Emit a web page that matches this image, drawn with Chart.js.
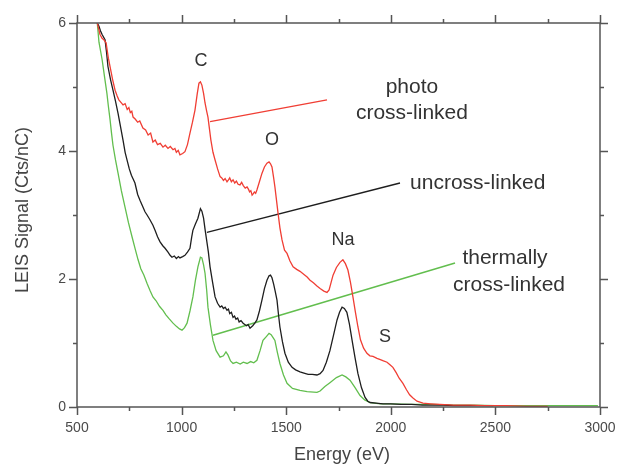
<!DOCTYPE html>
<html>
<head>
<meta charset="utf-8">
<script src="https://cdn.jsdelivr.net/npm/chart.js@4.4.1/dist/chart.umd.min.js"></script>
<style>
  html, body { margin:0; padding:0; background:#fff; }
  #wrap { width:618px; height:465px; }
</style>
</head>
<body>
<div id="wrap"><canvas id="grafico" width="618" height="465"></canvas></div>
<script>
// ======================= datos =======================
const photoE = [597,610,620,628,639,650,658,670,682,692,700,710,720,730,740,748,755,762,768,778,790,800,815,828,840,852,863,874,885,898,911,922,935,946,959,968,975,984,992,1005,1016,1028,1040,1052,1064,1075,1083,1090,1097,1105,1112,1120,1126,1133,1140,1150,1160,1172,1184,1192,1200,1208,1217,1224,1230,1238,1246,1254,1262,1270,1279,1287,1295,1304,1313,1320,1325,1331,1337,1342,1348,1354,1360,1372,1384,1396,1408,1418,1425,1432,1440,1446,1454,1461,1470,1480,1492,1504,1518,1533,1550,1566,1585,1600,1614,1630,1647,1662,1680,1695,1705,1715,1724,1740,1757,1771,1783,1795,1807,1819,1831,1843,1855,1870,1886,1900,1915,1934,1950,1965,1982,1996,2010,2025,2040,2058,2075,2090,2106,2125,2154,2190,2235,2300,2380,2450,2550,2650,2750];
const photoY = [6.00,5.82,5.76,5.74,5.69,5.45,5.32,5.12,4.95,4.86,4.80,4.76,4.72,4.74,4.65,4.68,4.60,4.62,4.53,4.50,4.45,4.47,4.36,4.33,4.25,4.28,4.14,4.17,4.10,4.12,4.06,4.09,4.04,4.07,4.02,4.04,3.98,4.01,3.94,3.96,3.99,4.10,4.28,4.45,4.64,4.90,5.06,5.08,5.03,4.90,4.75,4.62,4.53,4.35,4.17,3.98,3.86,3.72,3.60,3.58,3.54,3.57,3.52,3.55,3.58,3.52,3.55,3.50,3.53,3.48,3.47,3.51,3.46,3.42,3.44,3.40,3.36,3.38,3.31,3.33,3.36,3.34,3.39,3.52,3.65,3.75,3.81,3.83,3.80,3.75,3.58,3.44,3.22,3.03,2.80,2.61,2.45,2.40,2.28,2.19,2.15,2.12,2.07,2.03,1.98,1.94,1.89,1.85,1.81,1.79,1.83,1.95,2.06,2.18,2.26,2.30,2.24,2.14,1.95,1.72,1.48,1.25,1.05,0.92,0.84,0.80,0.79,0.76,0.74,0.72,0.70,0.66,0.62,0.54,0.45,0.37,0.27,0.19,0.14,0.09,0.06,0.05,0.04,0.03,0.03,0.02,0.02,0.01,0.01];

const uncrossE = [597,605,612,620,634,641,648,660,672,684,696,708,720,730,739,750,760,770,777,790,801,812,825,835,848,863,873,885,897,910,921,935,945,954,965,975,985,992,1005,1016,1028,1040,1048,1054,1066,1078,1090,1097,1105,1112,1120,1128,1136,1148,1160,1172,1184,1192,1200,1208,1217,1224,1230,1238,1246,1253,1260,1268,1275,1284,1294,1302,1310,1318,1327,1340,1350,1360,1372,1384,1396,1408,1418,1425,1432,1440,1448,1456,1463,1470,1482,1494,1510,1528,1545,1566,1585,1605,1625,1647,1662,1676,1692,1709,1726,1743,1755,1767,1778,1790,1802,1815,1829,1843,1860,1877,1890,1901,1930,1963,2000,2050,2100,2150,2200,2250,2300,2400,2490];
const uncrossY = [6.00,5.95,5.88,5.82,5.74,5.55,5.32,5.12,4.95,4.78,4.59,4.38,4.17,3.98,3.86,3.72,3.62,3.55,3.50,3.32,3.23,3.15,3.05,3.00,2.93,2.84,2.76,2.66,2.58,2.52,2.48,2.42,2.37,2.34,2.36,2.32,2.35,2.33,2.35,2.37,2.42,2.48,2.65,2.76,2.86,2.95,3.10,3.06,2.95,2.78,2.60,2.42,2.19,1.95,1.72,1.62,1.56,1.58,1.54,1.56,1.51,1.53,1.46,1.48,1.40,1.42,1.37,1.39,1.33,1.35,1.31,1.29,1.27,1.29,1.23,1.27,1.31,1.36,1.50,1.67,1.85,1.98,2.05,2.06,2.02,1.92,1.80,1.67,1.45,1.25,1.02,0.84,0.70,0.62,0.58,0.55,0.53,0.51,0.51,0.50,0.52,0.57,0.70,0.88,1.12,1.36,1.48,1.56,1.54,1.48,1.30,1.04,0.77,0.52,0.30,0.15,0.09,0.07,0.06,0.05,0.05,0.04,0.04,0.03,0.03,0.03,0.02,0.02,0.02];

const thermE = [597,605,620,632,643,650,658,665,672,684,696,712,729,746,763,778,792,805,820,835,849,863,878,895,911,925,940,959,975,990,1002,1014,1026,1040,1054,1066,1078,1090,1097,1105,1112,1120,1126,1138,1150,1165,1184,1200,1212,1222,1234,1246,1262,1280,1295,1313,1330,1345,1360,1375,1389,1405,1418,1428,1438,1446,1458,1470,1487,1504,1530,1566,1600,1647,1662,1685,1709,1740,1767,1785,1805,1830,1853,1875,1901,1950,2000,2100,2200,2300,2400,2500,2600,2700,2800,2900,2990];
const thermY = [6.00,5.70,5.43,5.15,4.90,4.70,4.49,4.28,4.09,3.86,3.66,3.38,3.13,2.88,2.66,2.47,2.30,2.16,2.06,1.93,1.82,1.72,1.66,1.57,1.51,1.44,1.38,1.31,1.26,1.22,1.20,1.24,1.31,1.50,1.72,1.98,2.19,2.34,2.33,2.22,2.09,1.82,1.56,1.28,1.04,0.88,0.78,0.80,0.86,0.81,0.72,0.68,0.70,0.67,0.70,0.68,0.71,0.69,0.73,0.88,1.04,1.10,1.15,1.13,1.08,1.04,0.85,0.68,0.50,0.37,0.29,0.26,0.24,0.23,0.25,0.32,0.38,0.46,0.50,0.47,0.42,0.30,0.18,0.11,0.07,0.05,0.05,0.04,0.04,0.03,0.03,0.02,0.02,0.02,0.02,0.02,0.02];

// lineas guia de las etiquetas (inicio, fin) en eV / senal
const photoLeadE = [1136,1695], photoLeadY = [4.46,4.80];
const uncrossLeadE = [1121,2044], uncrossLeadY = [2.73,3.50];
const thermLeadE = [1150,2307], thermLeadY = [1.12,2.25];

const xTicks = [500,1000,1500,2000,2500,3000];
const yTicks = [0,2,4,6];

// textos: [texto, eV, senal, alineacion, tamano]
const textos = [
  ['C', 1093, 5.41, 'center', 18],
  ['O', 1432, 4.17, 'center', 18],
  ['Na', 1771, 2.61, 'center', 18],
  ['S', 1972, 1.09, 'center', 18],
  ['photo', 2101, 4.99, 'center', 21],
  ['cross-linked', 2101, 4.59, 'center', 21],
  ['uncross-linked', 2092, 3.50, 'left', 21],
  ['thermally', 2546, 2.33, 'center', 21],
  ['cross-linked', 2565, 1.90, 'center', 21]
];

const ROJO = 'rgb(240,62,52)';
const NEGRO = '#1e1e1e';
const VERDE = 'rgb(98,190,78)';
const GRIS = '#4a4a4a';
const FUENTE = '"Liberation Sans", Arial, sans-serif';

function pares(xs, ys){
  return xs.map((x,i) => ({x:x, y:ys[i]}));
}

function serie(label, xs, ys, color, ancho){
  return {
    label: label,
    data: pares(xs, ys),
    borderColor: color,
    borderWidth: ancho,
    pointRadius: 0,
    fill: false,
    tension: 0
  };
}

// ===================== marco, marcas y textos =====================
const pluginMarco = {
  id: 'marco',
  afterDatasetsDraw(chart){
    const ctx = chart.ctx;
    const a = chart.chartArea;
    const sx = chart.scales.x, sy = chart.scales.y;
    ctx.save();
    ctx.strokeStyle = '#555';
    ctx.lineWidth = 1.5;
    ctx.strokeRect(a.left, a.top, a.right - a.left, a.bottom - a.top);

    // marcas eje x (abajo y arriba)
    for(let v=500; v<=3000; v+=250){
      const px = Math.round(sx.getPixelForValue(v)) + 0.5;
      const L = (v % 500 === 0) ? 8 : 4;
      ctx.beginPath();
      ctx.moveTo(px, a.bottom); ctx.lineTo(px, a.bottom + L);
      ctx.moveTo(px, a.top); ctx.lineTo(px, a.top - L);
      ctx.stroke();
    }
    // marcas eje y (izquierda y derecha)
    for(let v=0; v<=6; v+=1){
      const py = Math.round(sy.getPixelForValue(v)) + 0.5;
      const L = (v % 2 === 0) ? 8 : 4;
      ctx.beginPath();
      ctx.moveTo(a.left, py); ctx.lineTo(a.left - L, py);
      ctx.moveTo(a.right, py); ctx.lineTo(a.right + L, py);
      ctx.stroke();
    }

    // textos de la grafica
    ctx.fillStyle = '#333';
    ctx.textBaseline = 'middle';
    textos.forEach(t => {
      ctx.font = t[4] + 'px ' + FUENTE;
      ctx.textAlign = t[3];
      ctx.fillText(t[0], sx.getPixelForValue(t[1]), sy.getPixelForValue(t[2]));
    });

    // titulos de ejes
    ctx.fillStyle = '#444';
    ctx.font = '18px ' + FUENTE;
    ctx.textAlign = 'center';
    ctx.fillText('Energy (eV)', 342, 455);
    ctx.translate(23, 210);
    ctx.rotate(-Math.PI/2);
    ctx.fillText('LEIS Signal (Cts/nC)', 0, 0);
    ctx.restore();
  }
};

const chartData = {
  datasets: [
    serie('photo cross-linked', photoE, photoY, ROJO, 1.3),
    serie('uncross-linked', uncrossE, uncrossY, NEGRO, 1.3),
    serie('thermally cross-linked', thermE, thermY, VERDE, 1.3),
    serie('guia photo', photoLeadE, photoLeadY, ROJO, 1.3),
    serie('guia uncross', uncrossLeadE, uncrossLeadY, NEGRO, 1.3),
    serie('guia thermal', thermLeadE, thermLeadY, VERDE, 1.5)
  ]
};

const chartOptions = {
  responsive: false,
  animation: false,
  events: [],
  layout: { padding: { top: 23, right: 18, left: 0, bottom: 0 } },
  plugins: { legend: { display: false }, tooltip: { enabled: false } },
  scales: {
    x: {
      type: 'linear', min: 500, max: 3000,
      afterFit: s => { s.height = 58; s.paddingLeft = 0; s.paddingRight = 0; },
      afterBuildTicks: s => { s.ticks = xTicks.map(v => ({value: v})); },
      grid: { display: false, drawTicks: false },
      border: { display: false },
      ticks: { padding: 13, color: GRIS, font: { size: 14, family: FUENTE }, maxRotation: 0, autoSkip: false,
               callback: v => String(v) }
    },
    y: {
      type: 'linear', min: 0, max: 6,
      afterFit: s => { s.width = 77; s.paddingTop = 0; s.paddingBottom = 0; },
      afterBuildTicks: s => { s.ticks = yTicks.map(v => ({value: v})); },
      grid: { display: false, drawTicks: false },
      border: { display: false },
      ticks: { padding: 11, color: GRIS, font: { size: 14, family: FUENTE }, callback: v => String(v) }
    }
  }
};

new Chart(document.getElementById('grafico'), {
  type: 'line',
  data: chartData,
  options: chartOptions,
  plugins: [pluginMarco]
});
</script>
</body>
</html>
